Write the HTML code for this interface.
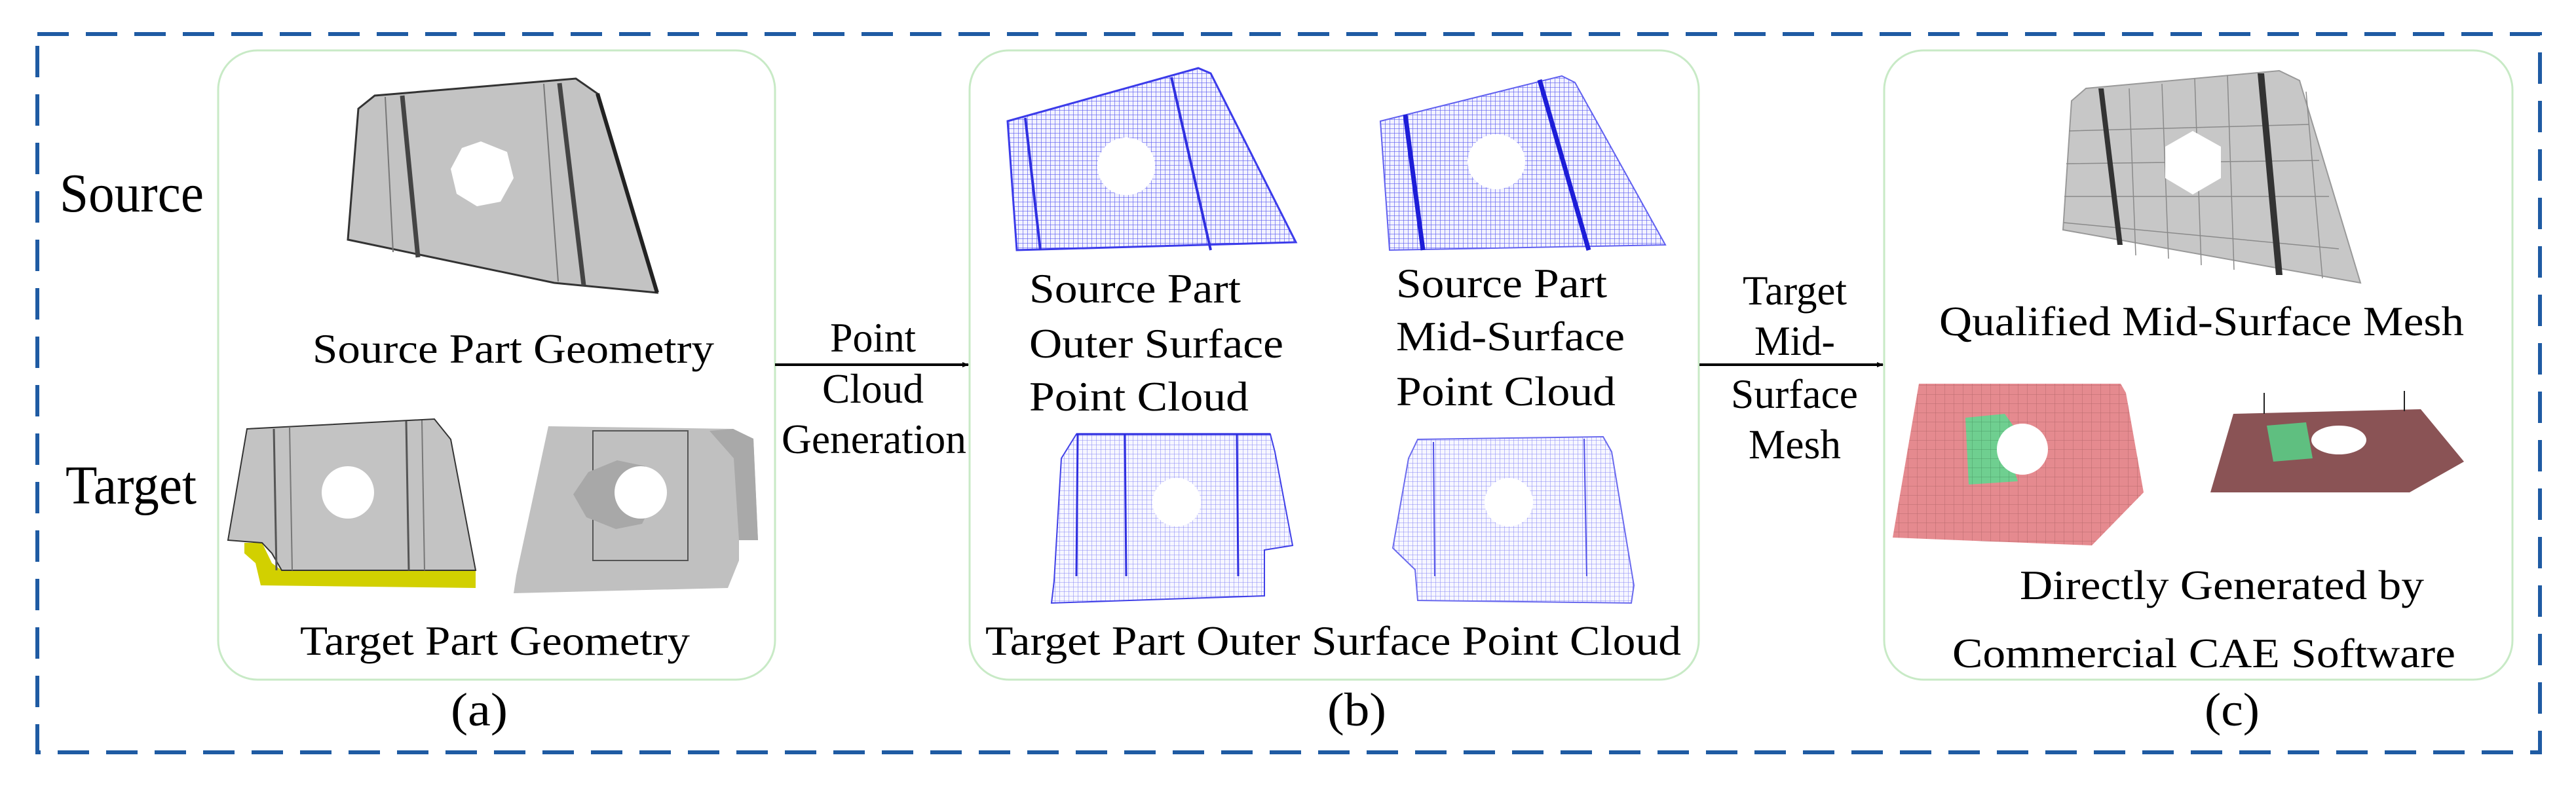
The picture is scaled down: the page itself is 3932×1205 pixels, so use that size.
<!DOCTYPE html>
<html><head><meta charset="utf-8"><style>
html,body{margin:0;padding:0;background:#fff}
svg{display:block}
svg text{font-family:"Liberation Serif","Times New Roman",Times,serif;fill:#000}
</style></head><body>
<svg width="3932" height="1205" viewBox="0 0 3932 1205" xmlns="http://www.w3.org/2000/svg">
<defs>
<pattern id="pc" width="7" height="7" patternUnits="userSpaceOnUse">
<rect width="7" height="7" fill="#f3f3ff"/>
<path d="M0 0H7M0 0V7" stroke="#5b5bf0" stroke-width="1.3"/>
</pattern>
<pattern id="pcl" width="7" height="7" patternUnits="userSpaceOnUse">
<rect width="7" height="7" fill="#f7f7ff"/>
<path d="M0 0H7M0 0V7" stroke="#8a8af5" stroke-width="1.1"/>
</pattern>
<pattern id="mp" width="14" height="14" patternUnits="userSpaceOnUse">
<rect width="14" height="14" fill="#e58a8f"/>
<path d="M0 0H14M0 0V14" stroke="#b86a6e" stroke-width="1"/>
</pattern>
<pattern id="mg" width="14" height="14" patternUnits="userSpaceOnUse">
<rect width="14" height="14" fill="#6fcf90"/>
<path d="M0 0H14M0 0V14" stroke="#4c9c68" stroke-width="1"/>
</pattern>
<marker id="ah" markerWidth="10" markerHeight="8" refX="9" refY="4" orient="auto" markerUnits="userSpaceOnUse" viewBox="0 0 10 8">
<path d="M0 0L10 4L0 8z" fill="#000"/>
</marker>
</defs>

<rect x="57" y="52" width="3820" height="1097" fill="none" stroke="#1f5ba3" stroke-width="6" stroke-dasharray="48 26"/>

<rect x="333" y="77" width="850" height="961" rx="60" fill="#fff" stroke="#c8eac6" stroke-width="3"/>
<rect x="1480" y="77" width="1113" height="961" rx="60" fill="#fff" stroke="#c8eac6" stroke-width="3"/>
<rect x="2876" y="77" width="959" height="961" rx="60" fill="#fff" stroke="#c8eac6" stroke-width="3"/>

<line x1="1183" y1="557" x2="1478" y2="557" stroke="#000" stroke-width="4" marker-end="url(#ah)"/>
<line x1="2594" y1="557" x2="2874" y2="557" stroke="#000" stroke-width="4" marker-end="url(#ah)"/>

<!-- panel a -->
<polygon points="547,166 572,146 879,120 912,143 1003,447 846,432 531,366" fill="#c3c3c3" stroke="#333" stroke-width="3"/>
<line x1="614" y1="146" x2="638" y2="393" stroke="#444" stroke-width="7"/>
<line x1="588" y1="148" x2="600" y2="385" stroke="#777" stroke-width="2"/>
<line x1="854" y1="127" x2="891" y2="436" stroke="#444" stroke-width="7"/>
<line x1="830" y1="128" x2="852" y2="430" stroke="#777" stroke-width="2"/>
<line x1="912" y1="143" x2="1003" y2="447" stroke="#222" stroke-width="6"/>
<polygon points="734,216 774,232 784,272 764,308 728,315 697,296 688,258 705,226" fill="#fff"/>

<polygon points="373,829 400,829 415,860 430,871 726,871 726,898 398,894 390,860 373,845" fill="#d2d000"/>
<polygon points="377,655 663,640 688,671 726,871 430,871 415,845 400,829 348,825" fill="#c3c3c3" stroke="#333" stroke-width="2"/>
<line x1="418" y1="655" x2="422" y2="871" stroke="#555" stroke-width="3"/>
<line x1="442" y1="652" x2="446" y2="871" stroke="#777" stroke-width="2"/>
<line x1="620" y1="643" x2="624" y2="871" stroke="#555" stroke-width="3"/>
<line x1="644" y1="642" x2="648" y2="871" stroke="#777" stroke-width="2"/>
<circle cx="531" cy="752" r="40" fill="#fff"/>

<polygon points="837,651 1119,655 1150,670 1157,825 1128,825 1128,856 1111,898 784,906 788,879 792,860" fill="#c0c0c0"/>
<polygon points="1083,658 1119,655 1150,670 1157,825 1128,825 1120,700" fill="#a9a9a9"/>
<rect x="905" y="658" width="145" height="198" fill="none" stroke="#555" stroke-width="2"/>
<polygon points="898,721 942,703 985,712 1000,760 980,800 940,808 895,790 875,755" fill="#a8a8a8"/>
<circle cx="978" cy="752" r="40" fill="#fff"/>

<!-- panel b -->
<polygon points="1538,185 1829,104 1848,112 1978,370 1552,382" fill="url(#pc)" stroke="#3b3bea" stroke-width="3"/>
<line x1="1565" y1="180" x2="1588" y2="382" stroke="#3030e0" stroke-width="4"/>
<line x1="1788" y1="118" x2="1848" y2="382" stroke="#3030e0" stroke-width="4"/>
<circle cx="1719" cy="254" r="44" fill="#fff"/>

<polygon points="2107,185 2384,116 2404,126 2542,374 2121,382" fill="url(#pc)" stroke="#6060f0" stroke-width="2"/>
<line x1="2145" y1="175" x2="2172" y2="382" stroke="#1d1dd8" stroke-width="7"/>
<line x1="2350" y1="122" x2="2425" y2="382" stroke="#1d1dd8" stroke-width="7"/>
<ellipse cx="2284" cy="247" rx="44" ry="42" fill="#fff"/>

<polygon points="1643,663 1939,663 1946,690 1973,833 1930,840 1930,910 1605,921 1609,887 1620,700" fill="url(#pcl)" stroke="#4040e8" stroke-width="2"/>
<line x1="1645" y1="663" x2="1643" y2="880" stroke="#3030e0" stroke-width="3"/>
<line x1="1717" y1="663" x2="1719" y2="880" stroke="#3030e0" stroke-width="3"/>
<line x1="1888" y1="663" x2="1890" y2="880" stroke="#3030e0" stroke-width="3"/>
<line x1="1643" y1="663" x2="1939" y2="663" stroke="#2a2ae0" stroke-width="3"/>
<circle cx="1796" cy="767" r="37" fill="#fff"/>

<polygon points="2164,671 2447,667 2460,690 2494,894 2490,921 2164,917 2160,870 2126,837 2150,700" fill="url(#pcl)" stroke="#6a6aee" stroke-width="2"/>
<line x1="2188" y1="675" x2="2190" y2="880" stroke="#5050e8" stroke-width="2"/>
<line x1="2418" y1="670" x2="2422" y2="880" stroke="#5050e8" stroke-width="2"/>
<circle cx="2303" cy="767" r="37" fill="#fff"/>

<!-- panel c -->
<polygon points="3162,154 3184,135 3479,108 3510,123 3603,432 3149,351" fill="#c7c7c7" stroke="#999" stroke-width="2"/>
<g stroke="#8a8a8a" stroke-width="1.5" fill="none">
<path d="M3158,200 L3525,190 M3154,250 L3540,245 M3151,300 L3555,300 M3150,340 L3570,380"/>
<path d="M3250,135 L3260,390 M3300,128 L3310,395 M3350,120 L3360,405 M3400,115 L3410,412 M3520,140 L3545,425"/>
</g>
<polygon points="3347,200 3390,224 3390,272 3347,297 3305,272 3305,224" fill="#fff"/>
<polygon points="3203,135 3211,135 3240,374 3232,374" fill="#333"/>
<polygon points="3446,112 3456,112 3484,420 3474,420" fill="#333"/>

<polygon points="2929,586 3237,586 3245,600 3272,752 3193,833 2889,821" fill="url(#mp)"/>
<path d="M3000,638 L3060,632 L3080,660 L3075,720 L3080,735 L3005,740 Z" fill="url(#mg)"/>
<circle cx="3087" cy="686" r="39" fill="#fff"/>

<polygon points="3409,632 3695,625 3761,705 3678,752 3374,752" fill="#8a5355"/>
<line x1="3456" y1="600" x2="3456" y2="632" stroke="#222" stroke-width="2"/>
<line x1="3670" y1="597" x2="3670" y2="628" stroke="#222" stroke-width="2"/>
<path d="M3460,650 L3520,645 L3530,700 L3470,705 Z" fill="#5fbf80"/>
<ellipse cx="3570" cy="672" rx="42" ry="22" fill="#fff"/>

<!-- labels -->
<g font-family="Liberation Serif, Times New Roman, serif">
<text x="91" y="323" font-size="84" textLength="220" lengthAdjust="spacingAndGlyphs">Source</text>
<text x="100" y="769" font-size="84" textLength="200" lengthAdjust="spacingAndGlyphs">Target</text>
<g font-size="64">
<text x="477" y="554" textLength="613" lengthAdjust="spacingAndGlyphs">Source Part Geometry</text>
<text x="458" y="1000" textLength="595" lengthAdjust="spacingAndGlyphs">Target Part Geometry</text>
<text x="688" y="1108" font-size="72" textLength="87" lengthAdjust="spacingAndGlyphs">(a)</text>

<text x="1267" y="537" textLength="131" lengthAdjust="spacingAndGlyphs">Point</text>
<text x="1255" y="615" textLength="155" lengthAdjust="spacingAndGlyphs">Cloud</text>
<text x="1193" y="692" textLength="282" lengthAdjust="spacingAndGlyphs">Generation</text>

<text x="1571" y="462" textLength="323" lengthAdjust="spacingAndGlyphs">Source Part</text>
<text x="1571" y="546" textLength="388" lengthAdjust="spacingAndGlyphs">Outer Surface</text>
<text x="1571" y="627" textLength="335" lengthAdjust="spacingAndGlyphs">Point Cloud</text>
<text x="2131" y="454" textLength="322" lengthAdjust="spacingAndGlyphs">Source Part</text>
<text x="2131" y="535" textLength="349" lengthAdjust="spacingAndGlyphs">Mid-Surface</text>
<text x="2131" y="619" textLength="335" lengthAdjust="spacingAndGlyphs">Point Cloud</text>
<text x="1504" y="1000" textLength="1062" lengthAdjust="spacingAndGlyphs">Target Part Outer Surface Point Cloud</text>
<text x="2026" y="1108" font-size="72" textLength="90" lengthAdjust="spacingAndGlyphs">(b)</text>

<text x="2660" y="465" textLength="159" lengthAdjust="spacingAndGlyphs">Target</text>
<text x="2678" y="542" textLength="123" lengthAdjust="spacingAndGlyphs">Mid-</text>
<text x="2642" y="623" textLength="194" lengthAdjust="spacingAndGlyphs">Surface</text>
<text x="2669" y="700" textLength="141" lengthAdjust="spacingAndGlyphs">Mesh</text>

<text x="2960" y="512" textLength="801" lengthAdjust="spacingAndGlyphs">Qualified Mid-Surface Mesh</text>
<text x="3083" y="915" textLength="617" lengthAdjust="spacingAndGlyphs">Directly Generated by</text>
<text x="2980" y="1019" textLength="768" lengthAdjust="spacingAndGlyphs">Commercial CAE Software</text>
<text x="3365" y="1108" font-size="72" textLength="84" lengthAdjust="spacingAndGlyphs">(c)</text>
</g>
</g>
</svg>
</body></html>
